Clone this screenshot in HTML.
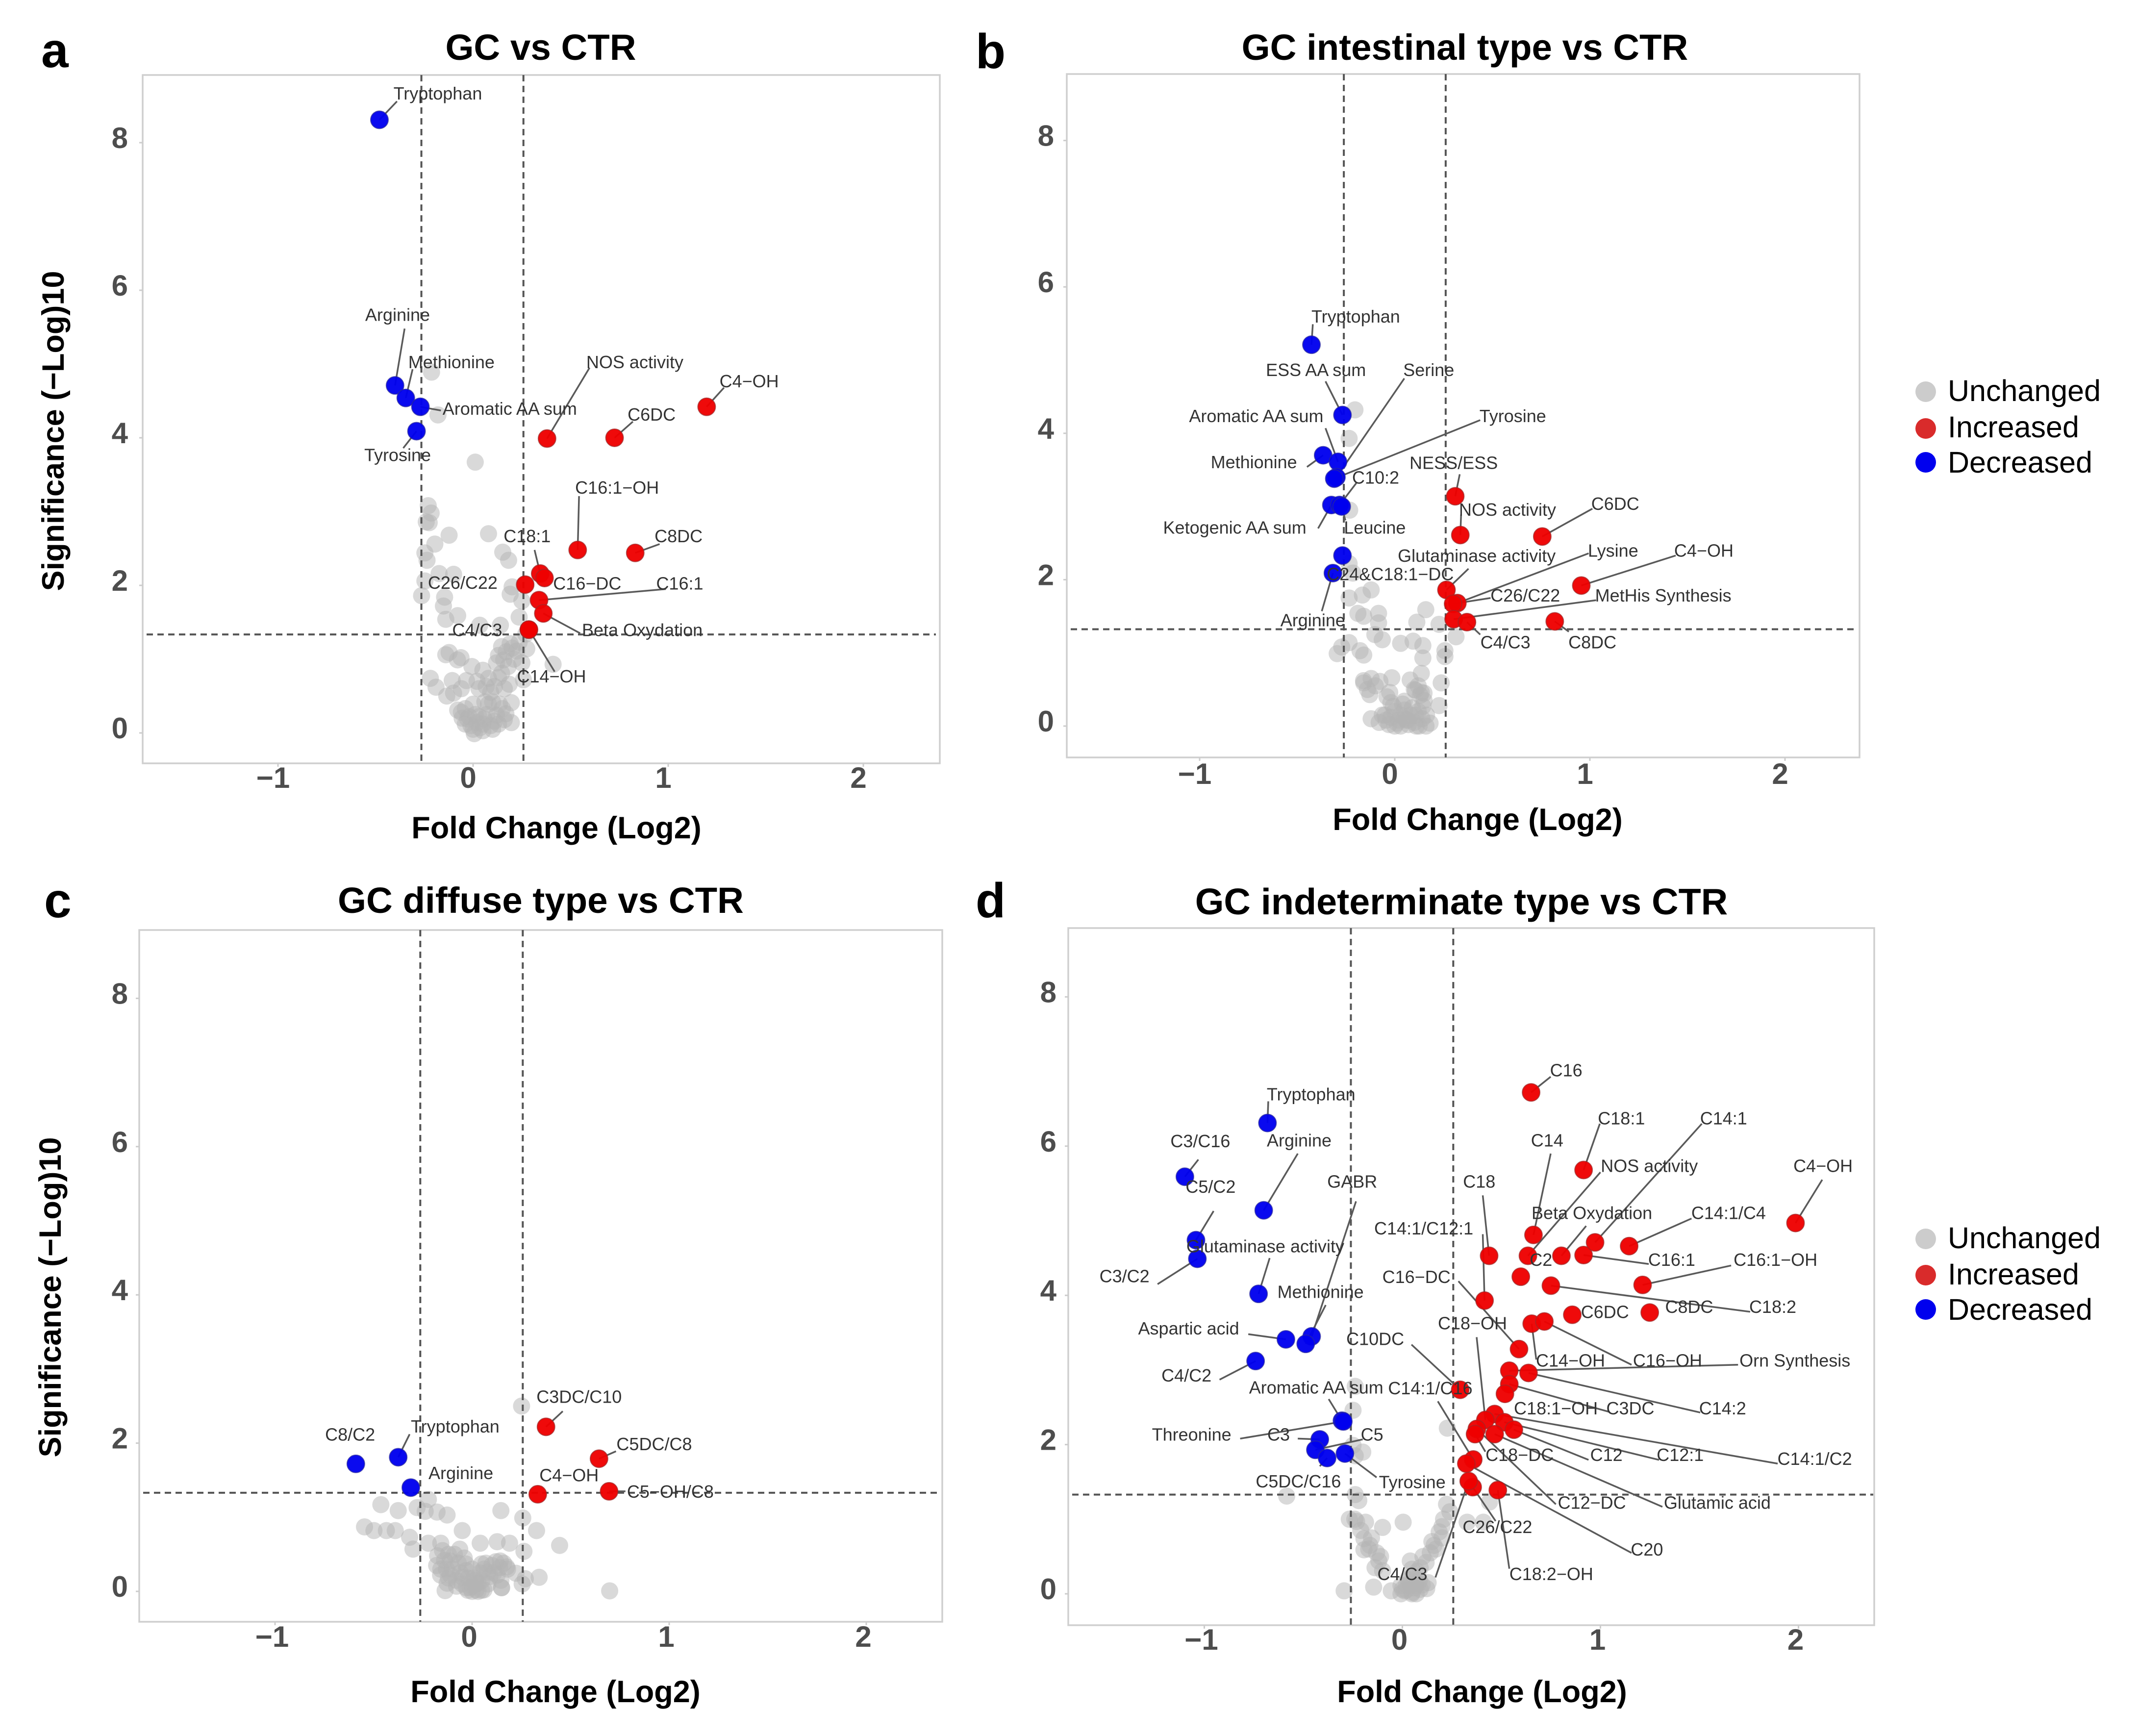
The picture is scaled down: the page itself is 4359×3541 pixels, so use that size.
<!DOCTYPE html>
<html lang="en">
<head>
<meta charset="utf-8">
<title>Volcano plots: GC vs CTR</title>
<style>
html,body{margin:0;padding:0;background:#fff;}
svg{display:block;font-family:"Liberation Sans",Arial,sans-serif;}
.panel-letter{font-size:100px;font-weight:700;fill:#000;}
.panel-title{font-size:74.5px;font-weight:700;fill:#000;text-anchor:middle;}
.axis-title{font-size:63px;font-weight:700;fill:#000;text-anchor:middle;}
.tick-label{font-size:60px;font-weight:700;fill:#4d4d4d;}
.point-label{font-size:36px;fill:#333;text-anchor:middle;}
.legend-text{font-size:61px;fill:#000;}
</style>
</head>
<body>
<svg id="figure" xmlns="http://www.w3.org/2000/svg" width="4359" height="3541" viewBox="0 0 4359 3541">
  <rect x="0" y="0" width="4359" height="3541" fill="#ffffff"/>

  <text class="panel-letter" x="84" y="137">a</text>
  <text class="panel-letter" x="1990" y="139">b</text>
  <text class="panel-letter" x="90" y="1871">c</text>
  <text class="panel-letter" x="1990" y="1871">d</text>

  <text class="panel-title" x="1103" y="122">GC vs CTR</text>
  <text class="panel-title" x="2988" y="122">GC intestinal type vs CTR</text>
  <text class="panel-title" x="1103" y="1862">GC diffuse type vs CTR</text>
  <text class="panel-title" x="2981" y="1865" style="font-size:75.5px">GC indeterminate type vs CTR</text>

  <text class="axis-title" x="1135" y="1710">Fold Change (Log2)</text>
  <text class="axis-title" x="3014" y="1693">Fold Change (Log2)</text>
  <text class="axis-title" x="1133" y="3472">Fold Change (Log2)</text>
  <text class="axis-title" x="3023" y="3472">Fold Change (Log2)</text>

  <text class="axis-title" transform="translate(130 879) rotate(-90)">Significance (−Log)10</text>
  <text class="axis-title" transform="translate(124 2646) rotate(-90)">Significance (−Log)10</text>

  <g>
    <g><circle cx="3928" cy="799" r="21" fill="#cccccc"/><text class="legend-text" x="3973" y="818">Unchanged</text></g>
    <g><circle cx="3928" cy="874" r="21" fill="#d92b2b"/><text class="legend-text" x="3973" y="892">Increased</text></g>
    <g><circle cx="3928" cy="943" r="21" fill="#0000ee"/><text class="legend-text" x="3973" y="964">Decreased</text></g>
  </g>
  <g>
    <g><circle cx="3928" cy="2527" r="21" fill="#cccccc"/><text class="legend-text" x="3973" y="2546">Unchanged</text></g>
    <g><circle cx="3928" cy="2601" r="21" fill="#d92b2b"/><text class="legend-text" x="3973" y="2620">Increased</text></g>
    <g><circle cx="3928" cy="2671" r="21" fill="#0000ee"/><text class="legend-text" x="3973" y="2692">Decreased</text></g>
  </g>
</svg>

<script>
/* Shared axis tick labels */
const xTickValues = [-1, 0, 1, 2];
const yTickValues = [0, 2, 4, 6, 8];

/* Panel a */
const aGrayFc = [-0.213,-0.18,0.011,-0.23,-0.215,-0.24,-0.225,-0.123,-0.196,-0.247,-0.236,0.079,0.152,0.182,-0.174,-0.10,-0.247,-0.264,-0.146,-0.152,-0.079,-0.14,0.034,0.14,0.20,0.19,0.25,0.236,0.27,-0.123,-0.14,-0.062,-0.08,-0.006,0.146,0.19,0.236,0.275,0.224,0.157,0.41,0.05,0.079,0.146,0.185,0.258,-0.219,-0.19,-0.107,-0.034,-0.135,-0.10,-0.079,-0.056,0,0.079,-0.011,0.006,0.034,0.10,0.11,0.168,0.196,0.196,0.067,0.11,0.135,0.056,-0.028,0.011,-0.06,-0.04,-0.02,0.02,0.03,0.05,0.07,0.09,0.12,0.13,0.15,0.16,-0.04,0.0,0.05,0.10,0.06,0.03,0.09,0.13,0.16,0.18,0.13,0.17,0.21,0.25,0.20,0.12,0.02,-0.06];
const aGraySig = [4.89,4.31,3.67,3.08,2.98,2.86,2.85,2.68,2.56,2.44,2.34,2.70,2.45,2.34,2.16,2.15,2.06,1.86,1.84,1.72,1.59,1.54,1.46,1.46,1.98,1.88,1.79,1.57,1.34,1.09,1.06,1.02,0.99,0.90,1.17,1.21,1.23,1.14,1.11,0.99,0.93,0.85,0.74,0.81,0.66,0.72,0.74,0.62,0.71,0.71,0.50,0.54,0.31,0.20,0.39,0.39,0.10,-0.01,0.07,0.05,0.16,0.26,0.41,0.14,0.63,0.63,0.39,0.19,0.19,0.25,0.28,0.12,0.22,0.14,0.22,0.12,0.25,0.10,0.24,0.12,0.33,0.18,0.33,0.05,0.03,0.42,0.42,0.60,0.55,0.75,0.60,0.90,1.05,1.10,1.00,0.95,1.15,0.95,0.70,0.60];
const aNames = ["Tryptophan","Arginine","Methionine","Aromatic AA sum","Tyrosine","NOS activity","C6DC","C4−OH","C16:1−OH","C8DC","C18:1","C16−DC","C26/C22","C16:1","Beta Oxydation","C4/C3","C14−OH"];
const aStatus = ["d","d","d","d","d","i","i","i","i","i","i","i","i","i","i","i","i"];
const aFc = [-0.48,-0.40,-0.345,-0.27,-0.29,0.379,0.725,1.197,0.536,0.831,0.344,0.366,0.267,0.338,0.36,0.286,0.286];
const aSig = [8.31,4.71,4.54,4.42,4.09,3.99,4.0,4.42,2.48,2.44,2.16,2.10,2.01,1.80,1.62,1.40,1.40];
const aLabelFc = [-0.181,-0.387,-0.111,0.188,-0.387,0.829,0.915,1.415,0.738,1.053,0.277,0.585,-0.053,1.059,0.867,0.021,0.402];
const aLabelSig = [8.67,5.67,5.03,4.40,3.77,5.03,4.32,4.77,3.33,2.67,2.67,2.03,2.04,2.03,1.40,1.40,0.77];
const aLeadFc = [-0.39,-0.351,-0.31,-0.165,-0.358,0.597,0.819,1.286,0.543,0.956,0.315,null,null,0.988,0.549,null,0.418];
const aLeadSig = [8.56,5.48,4.93,4.37,3.86,4.95,4.22,4.68,3.21,2.56,2.48,null,null,1.95,1.35,null,0.83];

/* Panel b */
const bGrayFc = [-0.204,-0.234,-0.231,-0.234,-0.215,-0.121,-0.166,-0.234,-0.189,-0.159,-0.083,-0.083,0.159,0.113,0.227,0.314,-0.102,-0.064,-0.234,-0.272,-0.295,0.03,0.094,0.144,0.257,0.257,-0.178,-0.159,0.144,0.136,0.238,-0.015,0.079,-0.159,-0.121,-0.076,-0.128,-0.026,0.106,0.136,0.227,-0.121,-0.064,-0.008,0.049,0.144,-0.045,0.011,0.068,0.125,0.181,0.163,0.03,0.106,-0.08,-0.05,-0.03,-0.02,0.0,0.02,0.03,0.05,0.05,0.07,0.08,0.09,0.10,0.12,0.14,0.15,0.16,0.13,0.10,0.12,0.15,-0.10,-0.14,-0.16,-0.04,0.04,-0.02,0.0,0.11,0.06];
const bGraySig = [4.32,3.93,2.95,2.22,2.09,1.86,1.79,1.75,1.54,1.50,1.54,1.41,1.59,1.42,1.39,1.22,1.25,1.18,1.14,1.08,0.99,1.13,1.16,1.10,1.03,0.95,1.03,0.97,0.93,0.72,0.59,0.66,0.63,0.59,0.65,0.61,0.43,0.46,0.49,0.46,0.28,0.10,0.15,0.27,0.34,0.27,0.08,0.04,0.08,0,0.04,0.15,0.15,0.15,0.05,0.15,0.02,0.12,0.20,0.08,0.0,0.10,0.22,0.02,0.15,0.25,0.05,0.20,0.10,0.35,0.0,0.42,0.50,0.55,0.45,0.55,0.50,0.62,0.40,0.30,0.32,0.0,0.0,0.08];
const bNames = ["Tryptophan","ESS AA sum","Methionine","Aromatic AA sum","Serine","Tyrosine","Ketogenic AA sum","C10:2","Leucine","C24&C18:1−DC","Arginine","NESS/ESS","NOS activity","C6DC","C4−OH","C8DC","Glutaminase activity","Lysine","C26/C22","MetHis Synthesis","C4/C3"];
const bStatus = ["d","d","d","d","d","d","d","d","d","d","d","i","i","i","i","i","i","i","i","i","i"];
const bFc = [-0.427,-0.268,-0.367,-0.291,-0.299,-0.31,-0.325,-0.283,-0.272,-0.268,-0.317,0.31,0.336,0.756,0.956,0.82,0.265,0.321,0.299,0.302,0.37];
const bSig = [5.21,4.25,3.70,3.61,3.40,3.38,3.02,3.02,3.00,2.33,2.09,3.14,2.61,2.59,1.92,1.43,1.86,1.68,1.67,1.46,1.42];
const bLabelFc = [-0.2,-0.404,-0.722,-0.71,0.174,0.605,-0.82,-0.098,-0.102,-0.023,-0.42,0.302,0.578,1.13,1.584,1.013,0.42,1.119,0.669,1.376,0.567];
const bLabelSig = [5.60,4.87,3.61,4.24,4.87,4.24,2.715,3.40,2.715,2.08,1.45,3.60,2.96,3.04,2.40,1.15,2.33,2.40,1.79,1.79,1.15];
const bLeadFc = [-0.42,-0.355,-0.45,-0.355,0.049,0.438,-0.393,-0.197,-0.253,null,-0.374,0.333,0.34,1.013,1.44,0.892,0.378,0.994,0.491,1.032,0.438];
const bLeadSig = [5.49,4.71,3.54,4.07,4.75,4.18,2.70,3.32,2.81,null,1.57,3.44,2.89,2.97,2.33,1.29,2.15,2.36,1.75,1.72,1.25];

/* Panel c */
const cGrayFc = [0.251,-0.222,-0.463,-0.375,-0.279,-0.238,0.146,0.257,-0.178,-0.127,-0.546,-0.498,-0.435,-0.39,-0.05,0.327,-0.317,0.444,-0.30,-0.222,-0.159,0.041,0.127,0.19,0.263,-0.063,-0.175,-0.11,-0.032,0.048,0.143,0.175,-0.159,-0.11,-0.048,0.016,0.079,0.127,0.222,0.34,0.27,0.254,-0.137,-0.022,0.048,0.149,0.146,-0.079,0,0.698,0.03,-0.127,-0.18,-0.16,-0.14,-0.13,-0.12,-0.10,-0.09,-0.08,-0.07,-0.06,-0.05,-0.04,-0.03,-0.02,-0.01,0,0.01,0.02,0.03,0.04,0.05,0.06,0.07,0.08,0.09,0.10,0.11,0.12,0.14,0.16,0.18,0.15,0.0,0.02,-0.03,0.06,-0.15,-0.12];
const cGraySig = [2.50,1.24,1.17,1.09,1.13,1.08,1.09,0.99,1.07,1.03,0.87,0.82,0.82,0.82,0.82,0.82,0.73,0.62,0.57,0.65,0.65,0.65,0.67,0.65,0.54,0.57,0.48,0.41,0.37,0.37,0.41,0.33,0.30,0.22,0.19,0.15,0.26,0.22,0.245,0.19,0.17,0.10,0.01,0.015,0.015,0.05,0.15,0.07,0.07,0.007,0.11,0.11,0.35,0.22,0.42,0.30,0.18,0.30,0.50,0.15,0.38,0.25,0.10,0.45,0.28,0.18,0.05,0.30,0.18,0.10,0.0,0.25,0.15,0.30,0.38,0.10,0.20,0.35,0.25,0.40,0.32,0.38,0.30,0.05,0.0,0.02,0.05,0.02,0.55,0.50];
const cNames = ["C8/C2","Tryptophan","Arginine","C3DC/C10","C5DC/C8","C4−OH","C5−OH/C8"];
const cStatus = ["d","d","d","i","i","i","i"];
const cFc = [-0.59,-0.375,-0.311,0.375,0.644,0.333,0.695];
const cSig = [1.72,1.81,1.40,2.22,1.79,1.31,1.35];
const cLabelFc = [-0.619,-0.086,-0.057,0.543,0.924,0.492,1.006];
const cLabelSig = [2.12,2.23,1.60,2.63,1.99,1.57,1.35];
const cLeadFc = [null,-0.317,null,0.46,0.73,null,0.778];
const cLeadSig = [null,2.12,null,2.43,1.89,null,1.35];

/* Panel d */
const dGrayFc = [-0.238,-0.249,0.227,-0.20,-0.249,-0.238,-0.584,-0.238,-0.22,0.44,0.223,0.208,-0.268,-0.231,-0.186,-0.10,0.004,0.327,0.409,0.186,0.149,-0.194,-0.156,-0.194,-0.164,-0.119,-0.138,0.104,0.141,0.04,0.048,-0.10,0.074,0.03,-0.007,0.123,0.067,-0.145,-0.056,-0.294,-0.007,0.048,0.011,0.086,0.02,0.04,0.05,0.06,0.08,0.09,0.03,0.06,0.10,0.0,0.02,0.07,0.13,0.17,0.20,0.24,0.16,0.12,0.09,0.20,-0.17,-0.13,-0.21,-0.24,-0.11];
const dGraySig = [2.78,2.46,2.22,1.90,1.99,1.85,1.31,1.33,1.25,1.23,1.20,1.0,1.0,0.97,0.96,0.89,0.96,0.96,0.96,0.83,0.70,0.74,0.75,0.59,0.65,0.44,0.35,0.50,0.55,0.44,0.33,0.31,0.30,0.18,0.11,0.07,0.11,0.09,0.04,0.04,0,0,0.04,0.18,0.05,0.12,0.02,0.08,0.14,0.06,0.20,0.22,0.12,0.06,0.12,0.0,0.15,0.60,0.90,1.10,0.65,0.42,0.35,0.75,0.60,0.55,0.85,1.00,0.50];
const dNames = ["Tryptophan","C3/C16","Arginine","C5/C2","C3/C2","Glutaminase activity","GABR","Methionine","Aspartic acid","C4/C2","Aromatic AA sum","Threonine","C3","C5","C5DC/C16","Tyrosine","C14:1/C12:1","C18","C14","NOS activity","C2","Beta Oxydation","C16:1","C14:1","C14:1/C4","C4−OH","C18:1","C16","C16:1−OH","C18:2","C6DC","C8DC","C14−OH","C16−OH","C16−DC","Orn Synthesis","C14:2","C3DC","C18:1−OH","C10DC","C14:1/C16","C20","C26/C22","C4/C3","C18:2−OH","C14:1/C2","C18−OH","C12−DC","C12:1","C12","Glutamic acid","C18−DC"];
const dStatus = ["d","d","d","d","d","d","d","d","d","d","d","d","d","d","d","d","i","i","i","i","i","i","i","i","i","i","i","i","i","i","i","i","i","i","i","i","i","i","i","i","i","i","i","i","i","i","i","i","i","i","i","i"];
const dFc = [-0.681,-1.098,-0.70,-1.042,-1.035,-0.726,-0.458,-0.488,-0.588,-0.741,-0.305,-0.298,-0.417,-0.439,-0.38,-0.29,0.415,0.438,0.662,0.634,0.598,0.803,0.915,0.973,1.145,1.985,0.915,0.65,1.213,0.75,0.858,1.249,0.653,0.717,0.589,0.54,0.637,0.54,0.518,0.292,0.358,0.323,0.355,0.335,0.482,0.466,0.419,0.376,0.515,0.563,0.466,0.367];
const dSig = [6.31,5.59,5.14,4.74,4.49,4.02,3.45,3.35,3.41,3.12,2.32,2.31,2.07,1.93,1.82,1.88,3.93,4.53,4.81,4.53,4.25,4.53,4.54,4.71,4.66,4.97,5.68,6.72,4.14,4.13,3.74,3.77,3.62,3.65,3.28,2.99,2.96,2.81,2.68,2.735,1.80,1.745,1.43,1.51,1.39,2.41,2.33,2.21,2.30,2.20,2.14,2.14];
const dLabelFc = [-0.461,-1.02,-0.521,-0.968,-1.403,-0.692,-0.253,-0.413,-1.079,-1.09,-0.435,-1.064,-0.625,-0.153,-0.525,0.05,0.108,0.388,0.731,1.247,0.70,0.957,1.36,1.622,1.647,2.124,1.106,0.827,1.884,1.87,1.023,1.448,0.849,1.339,0.071,1.982,1.617,1.151,0.775,-0.137,0.141,1.235,0.48,0,0.752,2.082,0.354,0.957,1.403,1.03,1.59,0.592];
const dLabelSig = [6.70,6.07,6.08,5.46,4.26,4.66,5.53,4.05,3.56,2.93,2.77,2.14,2.14,2.14,1.51,1.50,4.90,5.53,6.08,5.74,4.48,5.11,4.48,6.375,5.11,5.74,6.375,7.02,4.48,3.85,3.78,3.85,3.13,3.13,4.25,3.13,2.49,2.49,2.49,3.42,2.76,0.598,0.90,0.27,0.27,1.815,3.63,1.227,1.865,1.865,1.227,1.865];
const dLeadFc = [-0.677,-1.03,-0.528,-0.953,-1.236,-0.67,-0.234,-0.387,-0.778,-0.923,-0.372,-0.819,-0.528,-0.20,-0.417,-0.13,0.406,0.406,0.749,1.0,null,0.928,1.244,1.512,1.46,2.12,0.997,0.749,1.66,1.756,null,null,0.676,1.157,0.283,1.695,1.504,1.043,null,0.046,0.179,1.157,0.471,0.167,0.54,1.895,0.375,0.775,1.296,0.94,1.313,0.419];
const dLeadSig = [6.60,5.82,5.90,5.13,4.15,4.50,5.26,3.87,3.48,2.87,2.61,2.08,2.08,2.07,1.71,1.56,4.82,5.34,5.90,5.65,null,4.93,4.42,6.30,5.03,5.55,6.30,6.93,4.40,3.78,null,null,3.14,3.07,4.19,3.07,2.43,2.44,null,3.34,2.58,0.548,0.975,0.22,0.337,1.745,3.44,1.20,1.795,1.795,1.166,1.905];

const SVG_NS = "http://www.w3.org/2000/svg";
const figure = document.getElementById("figure");

function make(parent, tag, attrs, text) {
  const el = document.createElementNS(SVG_NS, tag);
  for (const key in attrs) el.setAttribute(key, attrs[key]);
  if (text !== undefined) el.textContent = text;
  parent.appendChild(el);
  return el;
}

function slug(text) {
  return text.toLowerCase().replace(/[^a-z0-9]+/g, "-").replace(/^-|-$/g, "");
}

function drawPanel(id, box, ticks, thresholds, data) {
  const sx = v => box.x0 + v * box.ux;
  const sy = v => box.y0 - v * box.uy;

  const panel = make(figure, "g", {});
  
  

  const frame = make(panel, "rect", {x: box.left, y: box.top, width: box.right - box.left, height: box.bottom - box.top, fill: "none", stroke: "#cfcfcf", "stroke-width": 3.5});
  
  

  xTickValues.forEach(v => {
    const tick = make(panel, "line", {x1: sx(v), x2: sx(v), y1: box.bottom, y2: box.bottom + 7, stroke: "#cccccc", "stroke-width": 3});
    
    
    const label = make(panel, "text", {class: "tick-label", x: sx(v) + ticks.xLabelShift, y: ticks.xBaseline, "text-anchor": "middle"}, String(v).replace("-", "\u2212"));
    
    
  });
  yTickValues.forEach(v => {
    const tick = make(panel, "line", {x1: box.left - 7, x2: box.left, y1: sy(v), y2: sy(v), stroke: "#cccccc", "stroke-width": 3});
    
    
    const label = make(panel, "text", {class: "tick-label", x: ticks.yRight, y: sy(v) + 11, "text-anchor": "end"}, String(v));
    
    
  });

  const grayGroup = make(panel, "g", {});
  
  
  data.grayFc.forEach((v, i) => {
    const dot = make(grayGroup, "circle", {cx: sx(v), cy: sy(data.graySig[i]), r: 17.5, fill: "#b4b4b4", "fill-opacity": 0.5});
    
    
  });

  const dash = {stroke: "#555555", "stroke-width": 4, "stroke-dasharray": "13 9", fill: "none"};
  thresholds.fc.forEach(v => {
    const line = make(panel, "line", Object.assign({x1: sx(v), x2: sx(v), y1: box.top, y2: box.bottom}, dash));
    
    
  });
  const hLine = make(panel, "line", Object.assign({x1: box.left + 8, x2: box.right + (id === "d" ? -2 : -8), y1: sy(thresholds.sig), y2: sy(thresholds.sig)}, dash));
  
  

  data.names.forEach((name, i) => {
    if (data.leadFc[i] === null) return;
    const leader = make(panel, "line", {x1: sx(data.fc[i]), y1: sy(data.sig[i]), x2: sx(data.leadFc[i]), y2: sy(data.leadSig[i]), stroke: "#5a5a5a", "stroke-width": 3.5});
    
    
  });

  data.names.forEach((name, i) => {
    const increased = data.status[i] === "i";
    const dot = make(panel, "circle", {cx: sx(data.fc[i]), cy: sy(data.sig[i]), r: 18, fill: increased ? "#ee0000" : "#0000ee", "fill-opacity": 0.96, stroke: increased ? "#9c2a2a" : "#2a2a9c", "stroke-opacity": 0.7, "stroke-width": 2});
    
    
  });

  data.names.forEach((name, i) => {
    const label = make(panel, "text", {class: "point-label", x: sx(data.labelFc[i]), y: sy(data.labelSig[i]) + 13}, name);
    
    
  });
}

drawPanel("a",
  {left: 291, right: 1917, top: 153, bottom: 1557, x0: 965, ux: 398, y0: 1495, uy: 150.5},
  {xLabelShift: -10, xBaseline: 1607, yRight: 261},
  {fc: [-0.265, 0.258], sig: 1.335},
  {grayFc: aGrayFc, graySig: aGraySig, names: aNames, status: aStatus, fc: aFc, sig: aSig, labelFc: aLabelFc, labelSig: aLabelSig, leadFc: aLeadFc, leadSig: aLeadSig});

drawPanel("b",
  {left: 2176, right: 3793, top: 151, bottom: 1545, x0: 2845, ux: 398, y0: 1481, uy: 149.3},
  {xLabelShift: -10, xBaseline: 1599, yRight: 2150},
  {fc: [-0.261, 0.261], sig: 1.323},
  {grayFc: bGrayFc, graySig: bGraySig, names: bNames, status: bStatus, fc: bFc, sig: bSig, labelFc: bLabelFc, labelSig: bLabelSig, leadFc: bLeadFc, leadSig: bLeadSig});

drawPanel("c",
  {left: 284, right: 1922, top: 1897, bottom: 3308, x0: 963, ux: 402, y0: 3246, uy: 151.2},
  {xLabelShift: -6, xBaseline: 3359, yRight: 261},
  {fc: [-0.263, 0.257], sig: 1.33},
  {grayFc: cGrayFc, graySig: cGraySig, names: cNames, status: cStatus, fc: cFc, sig: cSig, labelFc: cLabelFc, labelSig: cLabelSig, leadFc: cLeadFc, leadSig: cLeadSig});

drawPanel("d",
  {left: 2179, right: 3823, top: 1893, bottom: 3315, x0: 2860.5, ux: 404, y0: 3251, uy: 152.2},
  {xLabelShift: -6, xBaseline: 3365, yRight: 2155},
  {fc: [-0.26, 0.257], sig: 1.33},
  {grayFc: dGrayFc, graySig: dGraySig, names: dNames, status: dStatus, fc: dFc, sig: dSig, labelFc: dLabelFc, labelSig: dLabelSig, leadFc: dLeadFc, leadSig: dLeadSig});
</script>
</body>
</html>
